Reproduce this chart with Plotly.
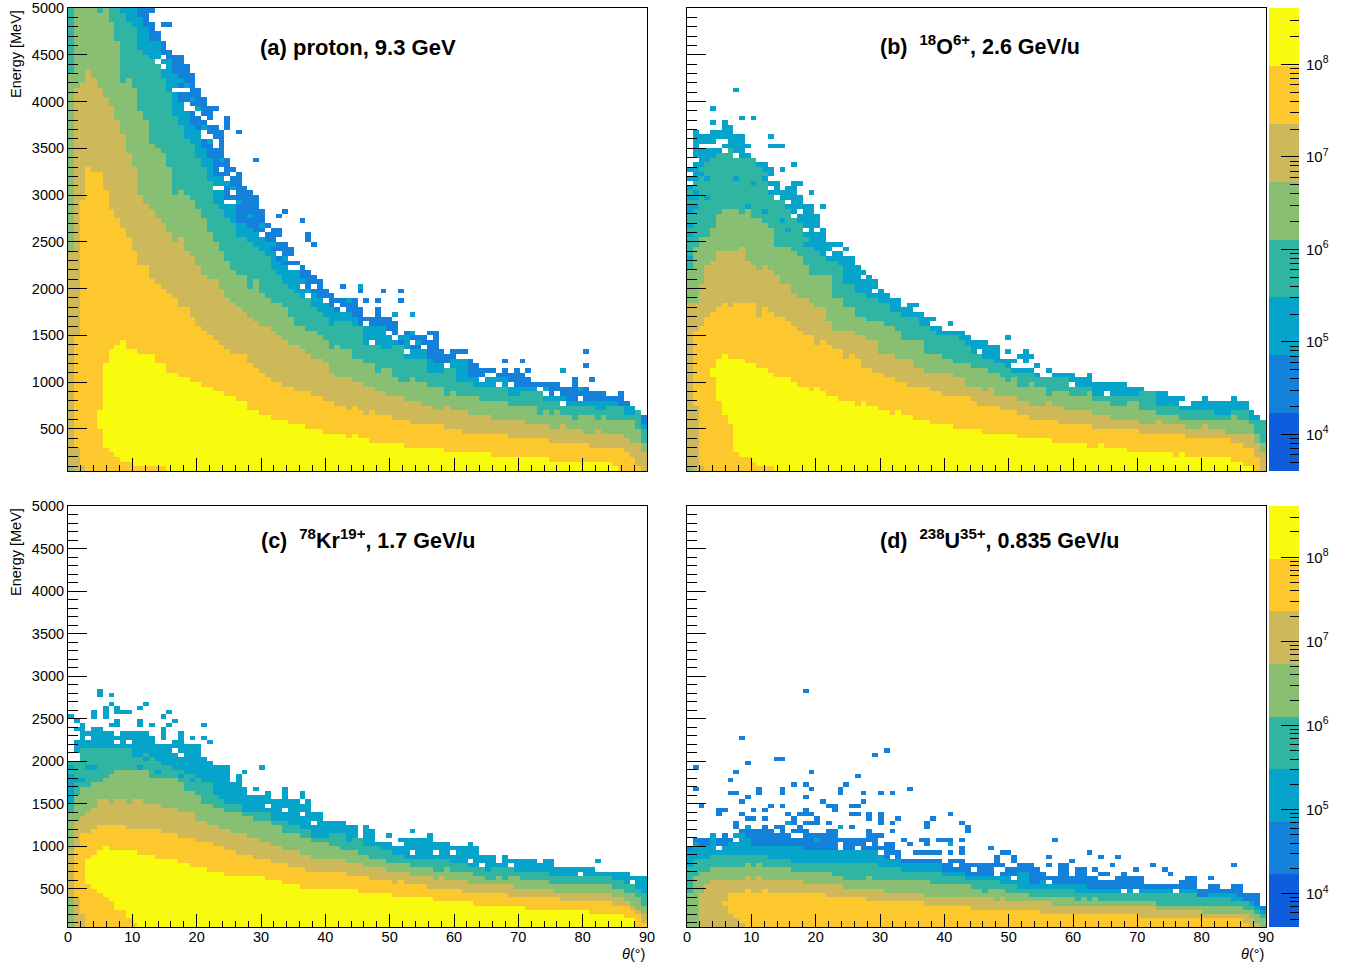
import math
import plotly.graph_objects as go

# theta bins are 0.9 deg wide, energy bins 50 MeV wide.
N_COLS = 100
N_ROWS = 99
THETA_EDGES = [0.9 * i for i in range(N_COLS + 1)]
ENERGY_EDGES = [50 + 50 * i for i in range(N_ROWS + 1)]

# Colour-band order, lowest to highest
BAND_COLOURS = ["#0F5CDD", "#1380D9", "#06A4CA", "#2FB5A2", "#89BF72", "#CDB85A", "#FDC72E", "#F9FB0E"]
LOG_MIN = 3.605
LOG_MAX = 8.61
BLUE, CYAN, TEAL, GREEN, KHAKI, ORANGE, YELLOW = 1, 2, 3, 4, 5, 6, 7

# Upper edge (MeV) of each colour band, as (first theta bin, edge) runs.
A_YELLOW = [(0,0),(5,700),(6,1200),(7,1350),(8,1400),(9,1450),(10,1350),(12,1300),(15,1200),(17,1100),(19,1050),(21,1000),(23,950),(25,900),(27,850),(29,800),(31,700),(33,650),(35,600),(38,550),(41,500),(44,450),(48,400),(49,450),(50,400),(52,350),(58,300),(65,250),(73,200),(83,150),(94,100),(95,0)]
A_ORANGE = [(0,0),(1,1500),(2,2950),(3,3300),(4,3250),(6,3050),(7,2850),(8,2750),(9,2650),(10,2550),(11,2400),(12,2250),(14,2100),(15,2050),(16,2000),(17,1950),(18,1900),(19,1800),(21,1700),(22,1600),(23,1550),(24,1500),(25,1450),(26,1400),(27,1350),(28,1300),(31,1200),(32,1150),(33,1100),(34,1050),(35,1000),(37,950),(39,900),(42,850),(44,800),(46,750),(48,700),(49,750),(50,700),(51,650),(52,700),(53,650),(56,600),(59,550),(65,500),(68,450),(76,400),(83,350),(90,300),(96,250),(97,200),(98,100),(99,0)]
A_KHAKI = [(0,2400),(1,4150),(2,4200),(3,4350),(4,4250),(5,4150),(6,4050),(7,3950),(8,3800),(9,3650),(10,3450),(11,3300),(12,3000),(13,2900),(14,2850),(15,2750),(16,2700),(17,2600),(18,2500),(19,2550),(20,2400),(21,2350),(22,2250),(23,2150),(24,2100),(26,2000),(27,1900),(28,1850),(29,1800),(30,1750),(31,1700),(32,1650),(33,1600),(35,1550),(36,1500),(37,1450),(38,1400),(40,1350),(41,1300),(42,1250),(44,1200),(45,1100),(46,1050),(49,1000),(51,950),(53,900),(55,850),(58,800),(61,750),(63,700),(65,750),(66,700),(69,650),(73,600),(79,550),(83,500),(85,550),(86,500),(89,450),(91,500),(92,450),(96,400),(97,350),(99,250)]
A_GREEN = [(0,4300),(1,5000),(5,4950),(6,5000),(7,4850),(8,4650),(9,4200),(10,4250),(11,4150),(12,3900),(13,3800),(14,3550),(15,3500),(16,3450),(17,3300),(18,3000),(19,3050),(20,3000),(21,2950),(22,2850),(23,2750),(24,2600),(25,2500),(26,2400),(27,2300),(28,2200),(29,2150),(31,2000),(32,2100),(33,1950),(34,1900),(35,1850),(37,1800),(38,1700),(39,1600),(41,1550),(43,1500),(44,1450),(45,1350),(46,1400),(47,1350),(49,1250),(51,1200),(53,1100),(54,1150),(56,1050),(57,1000),(59,1050),(60,1000),(62,950),(65,850),(66,900),(67,850),(71,800),(76,750),(81,650),(82,700),(83,650),(84,700),(85,650),(87,600),(88,650),(91,600),(92,650),(93,600),(98,500),(99,350)]
A_TEAL = [(0,5000),(9,4950),(10,4850),(11,4800),(12,4550),(13,4500),(14,4450),(15,4400),(16,4250),(17,4100),(18,3850),(19,3750),(20,3600),(21,3550),(22,3400),(23,3300),(24,3150),(25,2900),(26,2850),(27,2750),(28,2700),(29,2550),(31,2500),(32,2450),(33,2400),(34,2350),(35,2200),(36,2150),(37,2050),(38,2000),(39,1950),(40,1900),(42,1800),(43,1750),(44,1700),(45,1600),(46,1650),(49,1600),(51,1400),(54,1350),(56,1400),(58,1250),(62,1100),(65,1150),(67,1000),(70,950),(76,850),(78,900),(82,800),(85,750),(91,700),(93,750),(96,650),(98,700),(99,500)]
A_CYAN = [(0,5000),(12,4900),(13,4800),(14,4650),(15,4600),(16,4500),(17,4400),(18,4300),(19,4000),(20,3900),(21,3750),(22,3700),(23,3500),(24,3400),(25,3200),(27,2950),(28,2900),(29,2700),(31,2650),(32,2600),(33,2550),(34,2500),(35,2400),(36,2300),(37,2250),(38,2200),(40,2100),(41,2000),(42,1950),(43,1900),(44,1850),(45,1800),(46,1750),(49,1700),(50,1600),(55,1500),(59,1350),(63,1200),(66,1250),(69,1050),(76,950),(83,850),(86,800),(95,750),(98,700),(99,550)]
A_BLUE = [(0,5000),(14,4850),(15,4750),(16,4650),(17,4550),(18,4500),(20,4400),(21,4300),(22,4150),(23,4050),(24,3950),(25,3750),(26,3700),(27,3400),(28,3300),(29,3250),(30,3100),(31,3050),(32,3000),(33,2800),(34,2700),(35,2650),(37,2500),(38,2450),(39,2300),(40,2250),(41,2200),(42,2150),(43,2100),(44,2000),(45,1950),(46,1900),(49,1800),(51,1700),(53,1750),(54,1700),(56,1650),(57,1500),(61,1450),(63,1550),(64,1300),(66,1350),(68,1200),(71,1150),(74,1100),(79,1050),(80,1000),(85,950),(90,900),(93,850),(96,800),(97,750),(98,700),(99,650)]
A_YELLOW_LOW = {5:500,6:300,7:250,8:200,9:150,10:150,11:100,12:100,13:100,14:100,15:100,16:100}
A_ORANGE_LOW = {1:300,2:100}
A_KHAKI_LOW = {0:100}
A_BLUE_SPECKS = [(47,2050),(50,2000),(54,2000),(57,2000),(57,1900),(49,1900),(49,1850),(51,1900),(53,1900),(50,1800),(53,1800),(53,1700),(56,1600),(58,1550),(62,1550),(61,1500),(57,1450),(62,1450),(62,1400),(62,1350),(62,1300),(64,1350),(68,1350),(69,1250),(70,1200),(75,1250),(78,1250),(72,1150),(75,1150),(77,1150),(79,1150),(89,1200),(89,1350),(87,1050),(87,1000),(90,1050),(95,900),(16,4850),(17,4850),(14,5000),(25,3950),(24,3900),(27,3850),(27,3800),(27,3750),(29,3700),(32,3400),(33,2850),(37,2850),(36,2800),(40,2750),(41,2600),(41,2550),(42,2500),(30,3050),(30,3000),(31,2950),(32,2900)]
A_CYAN_SPECKS = [(50,2050),(48,1900),(56,1750),(59,1750),(59,1550),(60,1450),(85,1150),(88,950),(15,4650),(17,4450),(18,4300),(19,4250),(20,4200),(21,4050),(22,3950),(23,3750),(24,3600),(26,3400),(27,3150),(28,3100),(29,2950),(31,2800),(33,2700),(35,2500),(37,2350)]
A_HOLES = [(16,4500),(17,4450),(16,4400),(16,4200),(16,4150),(18,4150),(19,4150),(20,4000),(20,3950),(21,3950),(22,3900),(23,3850),(23,3700),(23,3650),(24,3650),(25,3600),(25,3550),(26,3300),(28,3250),(27,3200),(25,3100),(26,3100),(28,3100),(28,3050),(30,3000),(27,2950),(28,2950),(15,4450),(20,4150),(24,3800),(25,3600),(36,2400),(38,2350),(40,2050),(41,1950),(47,1800),(49,1600),(52,1450),(58,1350),(60,1200),(69,1000),(71,1050),(74,1000),(82,900),(85,800),(88,850),(33,2600),(34,2650),(36,2550),(38,2250),(39,2250),(42,2050),(44,1900),(46,1850),(51,1650),(55,1550),(56,1500),(59,1450),(61,1400),(65,1200),(67,1300),(72,1100),(73,1100),(76,1000),(81,950),(84,900)]

B_YELLOW = [(0,0),(4,1150),(5,1250),(6,1300),(7,1250),(10,1200),(12,1150),(14,1100),(15,1050),(18,1000),(19,950),(21,900),(22,950),(23,900),(24,850),(26,800),(29,750),(30,800),(31,750),(33,700),(35,650),(36,700),(37,650),(39,600),(42,550),(46,500),(51,450),(57,400),(63,350),(69,300),(71,350),(72,300),(76,250),(84,200),(85,250),(86,200),(94,150),(96,100),(98,0)]
B_ORANGE = [(0,0),(1,1550),(2,1600),(3,1700),(4,1750),(5,1800),(6,1850),(7,1800),(8,1850),(12,1700),(13,1800),(14,1750),(15,1700),(17,1650),(18,1600),(19,1550),(20,1500),(22,1400),(23,1450),(24,1400),(25,1350),(27,1250),(28,1300),(29,1250),(30,1150),(32,1100),(34,1050),(36,1000),(38,950),(42,900),(44,850),(49,800),(50,750),(54,700),(57,650),(59,600),(64,550),(70,500),(78,450),(86,400),(94,350),(96,300),(98,200),(99,0)]
B_KHAKI = [(0,1850),(2,2050),(3,2250),(4,2300),(5,2400),(9,2450),(10,2300),(11,2250),(12,2200),(13,2250),(14,2200),(15,2150),(16,2050),(18,1950),(19,1900),(21,1850),(22,1800),(24,1650),(25,1550),(29,1500),(31,1450),(33,1300),(36,1250),(39,1150),(41,1100),(46,1050),(48,950),(51,900),(52,950),(53,850),(57,800),(59,750),(62,800),(63,750),(65,700),(70,650),(73,600),(78,550),(81,600),(82,550),(86,500),(89,550),(90,500),(93,450),(98,350),(99,250)]
B_GREEN = [(0,2200),(1,2450),(2,2550),(4,2650),(5,2800),(6,2850),(9,2800),(10,2850),(11,2750),(13,2700),(14,2650),(15,2450),(18,2400),(19,2350),(20,2250),(21,2150),(25,1900),(27,1800),(29,1700),(31,1650),(34,1600),(36,1550),(37,1450),(41,1300),(44,1250),(46,1200),(49,1150),(52,1100),(54,1050),(55,1000),(56,1050),(57,950),(59,1000),(60,950),(62,850),(63,900),(66,850),(69,900),(70,800),(73,750),(76,800),(78,700),(81,650),(85,600),(94,650),(95,600),(97,550),(98,450),(99,350)]
B_TEAL = [(0,3050),(1,3150),(2,3300),(3,3350),(4,3450),(7,3500),(8,3400),(12,3300),(13,3250),(14,3000),(15,2950),(17,2850),(18,2750),(19,2700),(20,2550),(21,2450),(22,2400),(23,2350),(24,2300),(26,2250),(27,2050),(29,1950),(31,1900),(33,1850),(35,1750),(37,1700),(40,1600),(42,1550),(43,1500),(47,1450),(48,1400),(49,1300),(51,1250),(53,1200),(56,1100),(60,1050),(66,950),(70,850),(78,900),(81,750),(85,700),(91,650),(94,700),(97,600)]
B_CYAN = [(0,3150),(1,3700),(2,3650),(4,3700),(6,3750),(8,3650),(10,3450),(11,3400),(12,3350),(14,3050),(15,3150),(16,3050),(17,3100),(18,3150),(19,3000),(20,2900),(22,2800),(23,2650),(24,2500),(25,2400),(27,2350),(28,2250),(30,2200),(31,2150),(32,2100),(33,2000),(34,1950),(35,1900),(37,1800),(38,1850),(39,1750),(41,1700),(42,1600),(44,1550),(47,1500),(49,1450),(52,1400),(54,1250),(56,1150),(59,1100),(61,1050),(63,1100),(67,1050),(70,1000),(76,950),(79,900),(82,850),(85,750),(88,800),(97,700),(98,650),(99,600)]
B_BLUE = [(0,0)]
B_YELLOW_LOW = {4:1050,5:800,6:650,7:550,8:250,9:200,10:200,11:150,12:100,13:100,14:100}
B_ORANGE_LOW = {1:750,2:100}
B_KHAKI_LOW = {0:100}
B_BLUE_SPECKS = []
B_CYAN_SPECKS = [(8,4150),(4,3950),(4,3800),(6,3800),(9,3850),(11,3850),(14,3650),(14,3550),(15,3550),(16,3550),(10,3550),(18,3350),(16,3300),(14,3300),(14,3250),(13,3200),(14,3150),(19,3150),(21,3050),(23,2900),(21,2900),(18,3000),(23,2600),(23,2500),(25,2500),(26,2500),(27,2450),(28,2350),(28,2300),(39,1850),(45,1650),(47,1550),(48,1500),(55,1500),(55,1350),(55,1200),(51,1400),(38,1800),(42,1700),(40,1700),(58,1350),(57,1300),(58,1300),(59,1300),(56,1250),(58,1250),(60,1200),(57,1150),(59,1150),(62,1150),(65,1100),(69,1100),(82,900),(85,850),(89,850),(94,850),(98,650),(87,800),(88,800),(93,800),(93,750),(95,750),(0,3300),(0,3200),(0,3100),(0,3000),(0,2900),(0,2850),(0,2700),(0,2600),(0,2350),(1,3500),(1,3300),(1,3200),(1,3050),(1,3000),(1,2900),(2,3450),(2,3400),(2,3250),(3,3400),(3,3200),(3,3000),(4,3450),(4,2600),(8,3200),(10,2900),(11,3150),(13,2850),(16,2750),(17,2650),(20,2500)]
B_HOLES = [(0,3500),(0,3400),(0,3350),(0,3250),(0,3150),(0,3050),(0,2950),(0,2750),(0,2500),(1,3500),(1,3400),(2,3550),(3,3550),(4,3550),(5,3600),(6,3600),(5,3550),(6,3500),(7,3300),(8,3450),(9,3350),(10,3300),(11,3250),(13,3050),(13,3000),(15,3000),(16,2700),(17,2950),(18,2800),(19,2850),(20,2650),(21,2400),(22,2650),(24,2400),(25,2050),(26,2250),(28,2000),(30,2150),(32,2000),(33,1850),(35,1650),(36,1700),(38,1700),(42,1450),(44,1500),(48,1250),(50,1350),(59,1000),(64,1000),(66,1000),(69,950),(72,900),(75,650),(79,700),(85,650),(88,650),(90,700),(99,550)]

C_YELLOW = [(0,0),(3,850),(4,900),(5,950),(6,1000),(7,950),(12,900),(15,850),(19,800),(21,750),(24,700),(27,650),(34,600),(37,550),(40,500),(50,450),(56,400),(63,350),(70,300),(79,250),(90,200),(96,150),(98,0)]
C_ORANGE = [(0,0),(1,1000),(2,1150),(4,1200),(5,1250),(10,1200),(16,1150),(19,1100),(22,1050),(25,1000),(27,950),(29,900),(32,850),(35,800),(38,750),(41,700),(48,650),(52,600),(56,550),(57,600),(58,550),(62,500),(68,450),(76,400),(85,350),(94,300),(97,250),(98,200),(99,100)]
C_KHAKI = [(0,950),(1,1300),(2,1350),(3,1400),(4,1450),(5,1550),(7,1500),(8,1550),(10,1500),(11,1550),(13,1500),(16,1450),(19,1400),(22,1300),(24,1250),(26,1200),(28,1150),(31,1100),(33,1050),(35,1000),(37,950),(40,900),(42,850),(48,800),(51,750),(55,700),(59,650),(63,600),(64,650),(65,600),(69,550),(77,500),(84,450),(94,400),(96,350),(97,300),(98,250),(99,200)]
C_GREEN = [(0,1400),(1,1600),(2,1700),(4,1750),(6,1800),(7,1850),(8,1900),(14,1800),(19,1750),(20,1650),(22,1600),(23,1500),(25,1450),(27,1400),(30,1350),(32,1300),(35,1250),(37,1150),(40,1100),(42,1050),(45,1000),(47,950),(50,900),(52,850),(55,800),(59,750),(63,700),(65,750),(66,700),(70,650),(72,600),(74,650),(75,600),(76,650),(78,600),(83,550),(94,500),(96,450),(98,400),(99,300)]
C_TEAL = [(0,2000),(2,2150),(11,2050),(13,2100),(14,2050),(15,2000),(16,1950),(18,1900),(20,1850),(22,1800),(23,1750),(25,1600),(26,1550),(27,1500),(30,1400),(35,1300),(38,1250),(40,1200),(42,1100),(45,1150),(48,1050),(49,1100),(51,1000),(54,950),(56,900),(58,850),(66,800),(69,750),(72,700),(73,750),(77,700),(83,650),(94,600),(96,550),(98,500),(99,450)]
C_CYAN = [(0,2000),(1,2400),(2,2450),(3,2350),(4,2400),(6,2350),(8,2300),(9,2350),(14,2300),(15,2200),(16,2400),(17,2200),(18,2250),(19,2300),(20,2200),(23,2050),(24,2000),(25,1950),(28,1750),(29,1800),(30,1700),(31,1600),(34,1650),(35,1550),(37,1700),(38,1550),(39,1500),(42,1400),(44,1300),(48,1250),(50,1100),(51,1200),(53,1050),(56,1000),(58,1100),(63,1050),(66,1000),(71,900),(74,800),(75,900),(76,850),(81,800),(84,750),(88,750),(90,700),(96,700),(97,650)]
C_BLUE = [(0,0)]
C_YELLOW_LOW = {3:550,4:500,5:450,6:400,7:350,8:250,9:250,10:150,11:100}
C_ORANGE_LOW = {1:400,2:200}
C_KHAKI_LOW = {0:400}
C_BLUE_SPECKS = []
C_CYAN_SPECKS = [(5,2850),(5,2800),(7,2800),(7,2700),(4,2600),(4,2550),(6,2650),(6,2600),(6,2550),(8,2650),(8,2600),(9,2600),(10,2600),(12,2650),(13,2700),(17,2600),(16,2550),(0,2550),(1,2500),(2,2450),(8,2500),(8,2450),(7,2450),(12,2500),(12,2450),(14,2450),(17,2450),(18,2500),(23,2450),(16,2400),(21,2300),(23,2300),(24,2250),(19,2350),(33,1950),(30,1900),(29,1850),(32,1700),(30,1700),(37,1650),(34,1600),(40,1650),(40,1600),(39,1550),(41,1550),(40,1500),(45,1300),(51,1250),(55,1150),(57,1100),(59,1200),(62,1150),(69,1050),(71,900),(72,850),(83,850),(82,850),(91,850),(90,750),(0,1950),(0,1850),(0,1800),(0,1750),(0,1700),(0,1650),(0,1600),(0,1550),(1,1800),(2,1800),(4,1950),(3,1950),(12,1950),(15,1900),(13,2050),(19,1850),(21,1800),(22,1900),(24,1800)]
C_HOLES = [(1,2350),(1,2300),(1,2100),(1,2050),(3,2300),(3,2100),(6,2100),(8,2350),(8,2250),(10,2250),(16,2250),(18,2150),(19,2100),(30,1700),(34,1500),(37,1450),(40,1400),(42,1300),(46,1050),(47,1100),(50,1050),(59,950),(63,950),(66,950),(69,850),(71,800),(76,800),(88,700),(97,600),(97,550)]

D_ORANGE = [(0,0),(6,350),(7,450),(10,500),(11,450),(13,500),(14,450),(24,400),(31,350),(41,300),(49,250),(61,200),(78,150),(96,100),(97,0)]
D_KHAKI = [(0,0),(2,450),(3,550),(4,600),(10,650),(11,600),(12,650),(13,600),(20,550),(27,500),(34,450),(41,400),(53,350),(54,400),(55,350),(63,300),(81,250),(89,200),(97,150),(98,100),(99,0)]
D_GREEN = [(0,450),(1,650),(2,700),(4,750),(10,800),(11,750),(12,800),(13,750),(18,700),(25,650),(27,600),(31,650),(32,600),(42,550),(49,500),(51,450),(52,500),(55,450),(59,400),(67,350),(68,400),(69,350),(70,400),(71,350),(81,300),(96,250),(98,200),(99,150)]
D_TEAL = [(0,750),(1,850),(4,900),(14,850),(18,800),(33,750),(37,700),(44,650),(48,600),(54,550),(57,500),(67,450),(88,400),(94,350),(97,300),(98,250),(99,200)]
D_CYAN = [(0,950),(1,1050),(2,1000),(4,1100),(5,1000),(7,1050),(8,1100),(10,1150),(11,1000),(20,950),(34,850),(37,800),(44,700),(48,650),(57,700),(59,550),(61,600),(63,550),(69,500),(88,400),(90,450),(95,400),(96,350),(98,300),(99,250)]
D_BLUE = [(0,1000),(1,1100),(6,1150),(7,1100),(9,1200),(12,1150),(13,1200),(15,1150),(18,1100),(21,1150),(24,1200),(25,1100),(32,1150),(33,1000),(34,1050),(36,950),(37,850),(48,800),(53,850),(54,700),(57,800),(60,700),(62,650),(64,800),(66,650),(67,750),(69,650),(71,600),(74,650),(79,550),(85,600),(86,650),(88,500),(90,550),(92,500),(94,550),(96,450),(99,300)]
D_YELLOW = [(0,0)]
D_YELLOW_LOW = {}
D_ORANGE_LOW = {6:300,7:200,8:150,9:100}
D_KHAKI_LOW = {}
D_BLUE_SPECKS = [(20,2850),(9,2300),(34,2150),(32,2100),(15,2050),(16,2050),(10,2000),(1,1950),(8,1900),(21,1900),(29,1850),(7,1800),(18,1750),(20,1750),(27,1750),(1,1700),(12,1700),(12,1650),(16,1700),(16,1650),(21,1700),(26,1700),(26,1650),(38,1700),(7,1650),(8,1650),(30,1650),(33,1650),(35,1650),(10,1600),(20,1600),(9,1550),(23,1550),(30,1550),(2,1500),(14,1500),(16,1500),(24,1500),(25,1500),(28,1500),(29,1500),(5,1450),(6,1450),(11,1450),(13,1450),(20,1450),(25,1450),(5,1400),(9,1400),(17,1400),(19,1400),(20,1400),(21,1400),(28,1400),(29,1400),(31,1400),(33,1400),(45,1400),(10,1350),(11,1350),(13,1350),(18,1350),(22,1350),(31,1350),(33,1350),(36,1350),(42,1350),(8,1300),(18,1300),(20,1300),(21,1300),(22,1300),(24,1300),(33,1300),(35,1300),(41,1300),(47,1300),(8,1250),(13,1250),(15,1250),(16,1250),(19,1250),(28,1250),(41,1250),(48,1250),(10,1200),(11,1200),(12,1200),(14,1200),(16,1200),(18,1200),(19,1200),(20,1200),(25,1200),(31,1200),(35,1200),(48,1200),(6,1150),(10,1150),(11,1150),(12,1150),(13,1150),(16,1150),(20,1150),(22,1150),(23,1150),(25,1150),(31,1150),(33,1150),(37,1100),(40,1100),(41,1100),(43,1100),(44,1100),(45,1100),(47,1100),(35,1050),(38,1050),(41,1050),(35,1000),(47,1000),(47,950),(52,1000),(54,950),(55,950),(53,900),(56,900),(39,950),(40,950),(41,950),(42,950),(43,950),(45,950),(63,1100),(69,950),(62,900),(71,900),(74,900),(56,850),(66,850),(54,800),(62,800),(73,800),(80,800),(94,800),(60,750),(70,750),(77,750),(82,750),(71,700),(72,700),(75,700),(83,700),(90,650),(55,750),(56,750),(57,750),(58,750)]
D_CYAN_SPECKS = [(4,1150),(8,1150),(9,1150),(10,1250),(26,1250),(17,1300),(22,1100),(45,1050)]
D_HOLES = [(5,1000),(8,1100),(26,1050),(26,1000),(29,1000),(31,1050),(33,950),(35,900),(44,850),(46,800),(49,750),(53,700),(53,750),(56,650),(62,600),(75,500),(77,500),(84,500)]

PANEL_A = dict(tops=[A_BLUE,A_CYAN,A_TEAL,A_GREEN,A_KHAKI,A_ORANGE,A_YELLOW], lows={KHAKI:A_KHAKI_LOW,ORANGE:A_ORANGE_LOW,YELLOW:A_YELLOW_LOW}, blue=A_BLUE_SPECKS, cyan=A_CYAN_SPECKS, holes=A_HOLES)
PANEL_B = dict(tops=[B_BLUE,B_CYAN,B_TEAL,B_GREEN,B_KHAKI,B_ORANGE,B_YELLOW], lows={KHAKI:B_KHAKI_LOW,ORANGE:B_ORANGE_LOW,YELLOW:B_YELLOW_LOW}, blue=B_BLUE_SPECKS, cyan=B_CYAN_SPECKS, holes=B_HOLES)
PANEL_C = dict(tops=[C_BLUE,C_CYAN,C_TEAL,C_GREEN,C_KHAKI,C_ORANGE,C_YELLOW], lows={KHAKI:C_KHAKI_LOW,ORANGE:C_ORANGE_LOW,YELLOW:C_YELLOW_LOW}, blue=C_BLUE_SPECKS, cyan=C_CYAN_SPECKS, holes=C_HOLES)
PANEL_D = dict(tops=[D_BLUE,D_CYAN,D_TEAL,D_GREEN,D_KHAKI,D_ORANGE,D_YELLOW], lows={KHAKI:D_KHAKI_LOW,ORANGE:D_ORANGE_LOW,YELLOW:D_YELLOW_LOW}, blue=D_BLUE_SPECKS, cyan=D_CYAN_SPECKS, holes=D_HOLES)

TITLES = ["(a) proton, 9.3 GeV", "(b)  <sup>18</sup>O<sup>6+</sup>, 2.6 GeV/u",
          "(c)  <sup>78</sup>Kr<sup>19+</sup>, 1.7 GeV/u", "(d)  <sup>238</sup>U<sup>35+</sup>, 0.835 GeV/u"]
TITLE_POS = [(258, 48), (878, 45), (259, 539), (878, 539)]
TITLE_SIZES = [22, 21.5, 21.5, 21.5]

W, H = 1351, 964
FONT = "Liberation Sans, Arial, sans-serif"
BAND_STEP = (LOG_MAX - LOG_MIN) / len(BAND_COLOURS)
BAND_VALUES = [LOG_MIN + BAND_STEP * (i + 0.5) for i in range(len(BAND_COLOURS))]


def expand(runs):
    out = [0] * N_COLS
    for i, (start, value) in enumerate(runs):
        end = runs[i + 1][0] if i + 1 < len(runs) else N_COLS
        for c in range(start, end):
            out[c] = value
    return out


def grid(panel):
    tops = [expand(t) for t in panel["tops"]]
    z = [[None] * N_COLS for _ in range(N_ROWS)]
    for c in range(N_COLS):
        for r in range(N_ROWS):
            bottom, top = ENERGY_EDGES[r], ENERGY_EDGES[r + 1]
            band = None
            for i, edges in enumerate(tops):
                level = i + 1
                low = panel["lows"].get(level, {}).get(c, 50)
                if top <= edges[c] and bottom >= low:
                    band = level
            if band is not None:
                z[r][c] = BAND_VALUES[band]
    for c, e in panel["holes"]:
        r = (e - 100) // 50
        if 0 <= r < N_ROWS and (z[r][c] is None or z[r][c] <= BAND_VALUES[CYAN]):
            z[r][c] = None
    for key, level in (("cyan", CYAN), ("blue", BLUE)):
        for c, e in panel[key]:
            r = (e - 100) // 50
            if 0 <= r < N_ROWS and (z[r][c] is None or z[r][c] <= BAND_VALUES[TEAL]):
                z[r][c] = BAND_VALUES[level]
    return z


stepped = []
for i, col in enumerate(BAND_COLOURS):
    stepped += [[i / len(BAND_COLOURS), col], [(i + 1) / len(BAND_COLOURS), col]]

fig = go.Figure()
boxes = [(68, 647, 8, 471), (687, 1266, 8, 471), (68, 647, 506, 927), (687, 1266, 506, 927)]
layout = dict(
    width=W, height=H, margin=dict(l=0, r=0, t=0, b=0, autoexpand=False), paper_bgcolor="white", plot_bgcolor="white",
    font=dict(family=FONT, size=15, color="#000"), showlegend=False,
    coloraxis=dict(colorscale=stepped, cmin=LOG_MIN, cmax=LOG_MAX, showscale=False),
)
for i, (panel, (x0, x1, y0, y1)) in enumerate(zip([PANEL_A, PANEL_B, PANEL_C, PANEL_D], boxes)):
    n = i + 1
    fig.add_trace(go.Heatmap(x=THETA_EDGES, y=ENERGY_EDGES, z=grid(panel), coloraxis="coloraxis",
                             xaxis=f"x{n}", yaxis=f"y{n}", hoverongaps=False))
    layout[f"xaxis{n}"] = dict(
        domain=[x0 / W, x1 / W], range=[0, 90], anchor=f"y{n}", showgrid=False, zeroline=False,
        showline=True, mirror=True, linecolor="#000", linewidth=1,
        tickmode="linear", tick0=0, dtick=10, ticks="inside", ticklen=13, tickcolor="#000", tickwidth=1,
        minor=dict(tick0=0, dtick=2, ticks="inside", ticklen=6, tickcolor="#000", tickwidth=1, showgrid=False),
        showticklabels=i >= 2, tickfont=dict(size=14.5, family=FONT), ticklabelstandoff=-3,
        ticklabeloverflow="allow",
    )
    layout[f"yaxis{n}"] = dict(
        domain=[1 - y1 / H, 1 - y0 / H], range=[50, 5000], anchor=f"x{n}", showgrid=False, zeroline=False,
        showline=True, mirror=True, linecolor="#000", linewidth=1,
        tickmode="linear", tick0=0, dtick=500, ticks="inside", ticklen=19, tickcolor="#000", tickwidth=1,
        minor=dict(tick0=0, dtick=100, ticks="inside", ticklen=10, tickcolor="#000", tickwidth=1, showgrid=False),
        showticklabels=i in (0, 2), tickfont=dict(size=14.5, family=FONT), ticklabeloverflow="allow",
    )

# palette strips beside the right-hand panels
minor_vals = [math.log10(m * 10 ** k) for k in range(3, 9) for m in range(2, 10)]
minor_vals = [v for v in minor_vals if LOG_MIN <= v <= LOG_MAX]
strip_edges = [LOG_MIN + BAND_STEP * i for i in range(len(BAND_COLOURS) + 1)]
for j, (y0, y1) in enumerate([(8, 471), (506, 927)]):
    n = 5 + j
    fig.add_trace(go.Heatmap(x=[0, 1], y=strip_edges, z=[[v] for v in BAND_VALUES], coloraxis="coloraxis",
                             xaxis=f"x{n}", yaxis=f"y{n}", hoverinfo="skip"))
    layout[f"xaxis{n}"] = dict(domain=[1269 / W, 1299 / W], range=[0, 1], anchor=f"y{n}", visible=False)
    layout[f"yaxis{n}"] = dict(
        domain=[1 - y1 / H, 1 - y0 / H], range=[LOG_MIN, LOG_MAX], anchor=f"x{n}", side="right",
        showgrid=False, zeroline=False, showline=False,
        tickmode="array", tickvals=[4, 5, 6, 7, 8], ticktext=[f"10<sup>{k}</sup>" for k in (4, 5, 6, 7, 8)],
        ticks="inside", ticklen=18, tickcolor="#000", tickwidth=1,
        minor=dict(tickmode="array", tickvals=minor_vals, ticks="inside", ticklen=9, tickcolor="#000", tickwidth=1, showgrid=False),
        tickfont=dict(size=15, family=FONT), ticklabelstandoff=6,
    )

ann = []


def place(text, px, py, box_index, **kw):
    x0, x1, y0, y1 = boxes[box_index]
    n = "" if box_index == 0 else box_index + 1
    ann.append(dict(text=text, x=(px - x0) / (x1 - x0), y=(y1 - py) / (y1 - y0), xref=f"x{n} domain", yref=f"y{n} domain",
                    showarrow=False, **kw))


for k, (text, (x, y), size) in enumerate(zip(TITLES, TITLE_POS, TITLE_SIZES)):
    place(f"<b>{text}</b>", x, y, k, xanchor="left", yanchor="middle", font=dict(size=size, family=FONT, color="#000"))
for k, y in ((0, 8), (2, 506)):
    place("Energy [MeV]", 16, y, k, textangle=-90, xanchor="center", yanchor="top", font=dict(size=14.5, family=FONT, color="#000"))
for k, x in ((2, 647), (3, 1266)):
    place("<i>θ</i>(°)", x, 954, k, xanchor="right", yanchor="middle", font=dict(size=14.5, family=FONT, color="#000"))
layout["annotations"] = ann
fig.update_layout(**layout)
fig.write_html("out.html", config={"displayModeBar": False},
               post_script="document.body.style.margin='0';document.documentElement.style.overflow='hidden';")
